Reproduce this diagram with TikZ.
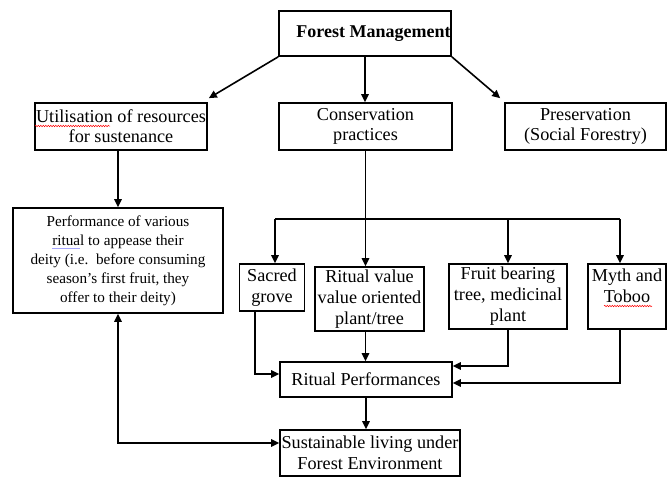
\documentclass[tikz,border=0pt]{standalone}
\usepackage{fontspec}
\setmainfont{Liberation Serif}
\usetikzlibrary{arrows.meta,decorations.pathmorphing}
\begin{document}
\begin{tikzpicture}[x=1pt,y=-1pt,
 box/.style={draw, line width=1.7pt, inner sep=0pt, align=center, font=\fontsize{18.2}{21}\selectfont},
 tip/.tip={Triangle[length=8pt,width=7.5pt]},
 arr/.style={line width=1.6pt, -tip},
 ln/.style={line width=1.6pt},
 squig/.style={red, line width=0.5pt, decorate, decoration={snake, amplitude=0.7pt, segment length=2.5pt}}]
\useasboundingbox (0,0) rectangle (667,477);
% nodes
\node[box, minimum width=172pt, minimum height=45pt, font=\bfseries\fontsize{18}{21}\selectfont] (fm) at (365,33.5) {\hspace*{17pt}Forest Management};
\node[box, minimum width=172pt, minimum height=47pt, font=\fontsize{18.2}{20}\selectfont] (util) at (121,126.5) {Utilisation of resources\\for sustenance};
\node[box, minimum width=173pt, minimum height=47pt, font=\fontsize{18.2}{20}\selectfont] (cons) at (365.5,126.5) {Conservation\\practices};
\node[box, minimum width=161pt, minimum height=47pt, font=\fontsize{18.2}{20}\selectfont] (pres) at (585.5,126.5) {Preservation\\(Social Forestry)};
\node[box, minimum width=210pt, minimum height=105pt, font=\fontsize{15.2}{19}\selectfont] (perf) at (118,260.5) {Performance of various\\ritual to appease their\\deity (i.e.\ \ before consuming\\season’s first fruit, they\\offer to their deity)};
\node[box, minimum width=65pt, minimum height=47pt] (sacred) at (272,287.5) {Sacred\\grove};
\node[box, minimum width=109pt, minimum height=64pt] (ritval) at (369.5,299) {Ritual value\\value oriented\\plant/tree};
\node[box, minimum width=118pt, minimum height=65pt] (fruit) at (508,296.5) {Fruit bearing\\tree, medicinal\\plant};
\node[box, minimum width=78pt, minimum height=65pt] (myth) at (627,296.5) {Myth and\\Toboo\\\mbox{}};
\node[box, minimum width=172pt, minimum height=35pt] (rp) at (366,379.5) {Ritual Performances};
\node[box, minimum width=180pt, minimum height=46pt, font=\fontsize{18.2}{20.5}\selectfont] (sust) at (370,453) {Sustainable living under\\Forest Environment};
% helper coordinates
\coordinate (hl) at (0,219);
\coordinate (xs) at (275,0);
\coordinate (xm) at (620,0);
\coordinate (xsb) at (255,0);
\coordinate (ya) at (0,374);
\coordinate (yb) at (0,366);
\coordinate (yc) at (0,383);
\coordinate (yd) at (0,443);
% connectors
\draw[arr] (fm.south west) -- ([xshift=1pt,yshift=4pt]util.north east);
\draw[arr] (fm.south) -- (fm.south |- cons.north);
\draw[arr] (fm.south east) -- ([xshift=-4pt,yshift=4pt]pres.north west);
\draw[arr] (perf.north |- util.south) -- (perf.north);
\draw[ln] (xs |- hl) -- (xm |- hl);
\draw[arr] (cons.south) -- (cons.south |- ritval.north);
\draw[arr] (xs |- hl) -- (xs |- sacred.north);
\draw[arr] (fruit.north |- hl) -- (fruit.north);
\draw[arr] (xm |- hl) -- (xm |- myth.north);
\draw[arr] (xsb |- sacred.south) |- (rp.west |- ya);
\draw[arr] (cons.south |- ritval.south) -- (cons.south |- rp.north);
\draw[arr] (fruit.south) |- (rp.east |- yb);
\draw[arr] (xm |- myth.south) |- (rp.east |- yc);
\draw[arr] (rp.south) -- (rp.south |- sust.north);
\draw[line width=1.6pt, tip-tip] (perf.south) |- (sust.west |- yd);
% spell-check marks
\draw[squig] (35,126) -- (110,126);
\draw[squig] (604,306) -- (652,306);
\draw[blue!35, line width=0.6pt] (52,248) -- (80,248);
\end{tikzpicture}
\end{document}
